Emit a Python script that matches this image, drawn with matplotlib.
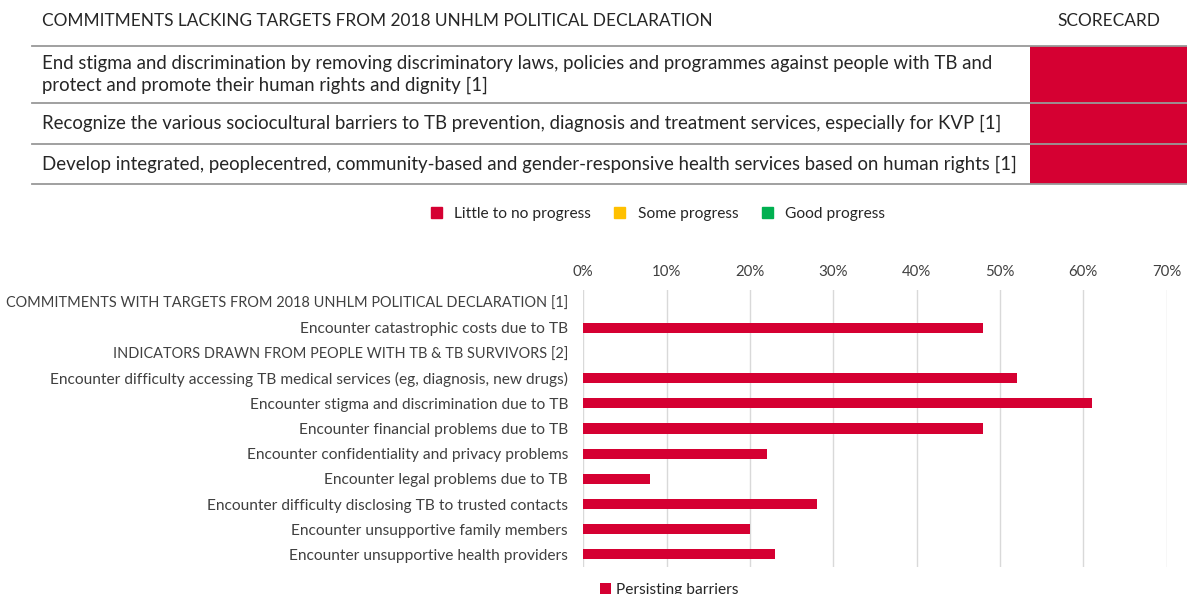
import matplotlib.pyplot as plt
from matplotlib.patches import Patch, Rectangle

plt.rcParams["font.family"] = ["Lato", "DejaVu Sans"]

RED = "#d50032"
YELLOW = "#ffc000"
GREEN = "#00b050"
TXT = "#262626"

# top table: commitments without targets and their scorecard status
commitments = [
    "End stigma and discrimination by removing discriminatory laws, policies and programmes against people with TB and\nprotect and promote their human rights and dignity [1]",
    "Recognize the various sociocultural barriers to TB prevention, diagnosis and treatment services, especially for KVP [1]",
    "Develop integrated, peoplecentred, community-based and gender-responsive health services based on human rights [1]",
]
scorecard = ["little", "little", "little"]
status_names = {"little": "Little to no progress", "some": "Some progress", "good": "Good progress"}
status_colors = {"little": RED, "some": YELLOW, "good": GREEN}

# bar chart: share of people facing each barrier (None = section header row)
labels = [
    "COMMITMENTS WITH TARGETS FROM 2018 UNHLM POLITICAL DECLARATION [1]",
    "Encounter catastrophic costs due to TB",
    "INDICATORS DRAWN FROM PEOPLE WITH TB & TB SURVIVORS [2]",
    "Encounter difficulty accessing TB medical services (eg, diagnosis, new drugs)",
    "Encounter stigma and discrimination due to TB",
    "Encounter financial problems due to TB",
    "Encounter confidentiality and privacy problems",
    "Encounter legal problems due to TB",
    "Encounter difficulty disclosing TB to trusted contacts",
    "Encounter unsupportive family members",
    "Encounter unsupportive health providers",
]
values = [None, 48, None, 52, 61, 48, 22, 8, 28, 20, 23]
xticks = [0, 10, 20, 30, 40, 50, 60, 70]

W, H = 1187, 594
fig = plt.figure(figsize=(W / 100, H / 100), dpi=100)

# pixel-space axes for the table part
tab = fig.add_axes([0, 0, 1, 1])
tab.set_xlim(0, W)
tab.set_ylim(H, 0)
tab.axis("off")

row_edges = [46, 103, 144, 184]
tab.text(42, 21, "COMMITMENTS LACKING TARGETS FROM 2018 UNHLM POLITICAL DECLARATION",
         fontsize=12.4, color=TXT, va="center", ha="left")
tab.text(1109, 21, "SCORECARD", fontsize=12.4, color=TXT, va="center", ha="center")
for i, (txt, st) in enumerate(zip(commitments, scorecard)):
    y0, y1 = row_edges[i], row_edges[i + 1]
    tab.add_patch(Rectangle((1030, y0), W - 1030, y1 - y0, color=status_colors[st], lw=0))
    tab.text(42, (y0 + y1) / 2, txt, fontsize=13.4, color=TXT, va="center", ha="left",
             linespacing=1.4)
for y in row_edges:
    tab.plot([32, W], [y, y], color="#999999", lw=1.3)

handles = [Patch(color=status_colors[k], label=v) for k, v in status_names.items()]
fig.legend(handles=handles, loc="center", bbox_to_anchor=(658 / W, 1 - 214 / H),
           ncol=3, frameon=False, fontsize=11.2, handlelength=0.7, handleheight=0.7,
           handletextpad=0.8, columnspacing=1.5, labelcolor=TXT)

# bar chart
ax = fig.add_axes([583.3 / W, 1 - 567 / H, 583.4 / W, 277 / H])
ypos = list(range(len(labels)))
bx = [y for y, v in zip(ypos, values) if v is not None]
bv = [v for v in values if v is not None]
ax.barh(bx, bv, height=0.4, color=RED, label="Persisting barriers")
ax.set_xlim(0, 70)
ax.set_ylim(len(labels) - 0.5, -0.5)
ax.set_xticks(xticks)
ax.set_xticklabels([f"{t}%" for t in xticks])
ax.xaxis.tick_top()
ax.set_yticks(ypos)
ax.set_yticklabels(labels)
ax.tick_params(axis="both", length=0, labelsize=10.8, colors="#404040")
ax.tick_params(axis="y", pad=11)
ax.tick_params(axis="x", pad=8)
for lab, v in zip(ax.get_yticklabels(), values):
    lab.set_fontsize(10.45 if v is None else 11.15)
ax.grid(axis="x", color="#d9d9d9", lw=1)
ax.set_axisbelow(True)
for s in ax.spines.values():
    s.set_visible(False)

ax.legend(loc="center left", bbox_to_anchor=(586 / W, 1 - 590 / H),
          bbox_transform=fig.transFigure, frameon=False, fontsize=11.2,
          handlelength=0.7, handleheight=0.7, handletextpad=0.3, labelcolor=TXT)

fig.savefig("out.png", dpi=100)
